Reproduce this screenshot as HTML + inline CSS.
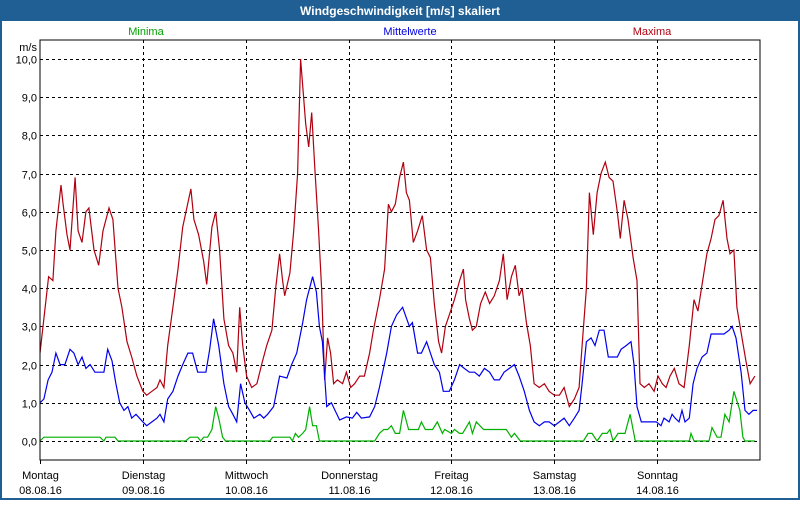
<!DOCTYPE html>
<html><head><meta charset="utf-8"><style>
html,body{margin:0;padding:0;background:#fff;}
body{width:800px;height:500px;overflow:hidden;font-family:"Liberation Sans",sans-serif;}
</style></head><body>
<svg id="chart" width="800" height="500" viewBox="0 0 800 500" xmlns="http://www.w3.org/2000/svg" font-family="Liberation Sans, sans-serif">
<rect x="0" y="0" width="800" height="500" fill="#1f5f94"/>
<rect x="2" y="21" width="796" height="477" fill="#ffffff"/>
<text x="400" y="15" text-anchor="middle" fill="#fff" font-size="12" font-weight="bold">Windgeschwindigkeit [m/s] skaliert</text>
<text x="146" y="35" text-anchor="middle" fill="#00a000" font-size="11">Minima</text>
<text x="410" y="35" text-anchor="middle" fill="#0000e0" font-size="11">Mittelwerte</text>
<text x="652" y="35" text-anchor="middle" fill="#b00010" font-size="11">Maxima</text>
<text x="37" y="51" text-anchor="end" fill="#000" font-size="11">m/s</text>
<g id="grid"></g>
<g id="series"></g>
<rect x="40" y="40" width="720" height="420" fill="none" stroke="#000" stroke-width="1"/>
<g id="labels"></g>
</svg>
<script>
const yTicks=[0,1,2,3,4,5,6,7,8,9,10];
const yTickLabels=["0,0","1,0","2,0","3,0","4,0","5,0","6,0","7,0","8,0","9,0","10,0"];
const dayNames=["Montag","Dienstag","Mittwoch","Donnerstag","Freitag","Samstag","Sonntag"];
const dayDates=["08.08.16","09.08.16","10.08.16","11.08.16","12.08.16","13.08.16","14.08.16"];
const maxT=[0,2.0,3.0,3.7,4.9,5.4,6.3,7.0,8.2,8.9,9.8,10.7,11.4,12.6,13.7,14.7,16.1,17.0,18.2,19.1,20.3,21.4,22.6,24.0,24.9,26.1,27.3,28.0,28.9,29.8,31.0,32.2,33.3,35.2,35.9,37.0,38.2,38.9,40.1,41.0,41.9,42.9,44.0,45.0,45.9,46.6,47.3,48.2,49.4,50.6,51.7,52.9,54.1,55.0,55.9,56.6,57.1,58.3,59.2,60.1,60.8,61.3,62.0,62.7,63.4,64.1,65.0,65.7,66.4,67.1,67.8,68.5,69.4,70.6,71.5,72.5,73.4,74.6,75.7,76.9,77.8,79.2,80.4,81.3,82.0,82.9,83.9,84.8,85.5,86.2,87.1,88.1,89.2,90.2,91.1,92.0,93.0,93.7,94.6,95.5,96.7,97.9,98.8,99.3,100.2,100.9,101.8,102.8,103.9,104.9,106.0,107.2,108.1,109.0,110.0,110.9,111.8,112.5,113.5,114.4,115.3,116.5,117.7,118.8,120.0,121.2,122.3,123.5,124.7,125.8,126.5,127.5,128.2,129.1,130.0,130.9,131.9,132.8,133.7,134.7,135.4,136.3,137.2,138.4,139.3,140.0,141.0,142.1,143.3,144.2,145.2,146.1,147.0,148.0,149.1,150.3,151.5,152.6,153.5,154.5,155.6,156.6,157.5,158.4,159.4,160.3,161.0,161.9,162.6,163.8,164.7,165.7,166.8];
const maxV=[2.3,4.3,4.2,5.5,6.7,6.2,5.4,5.0,6.9,5.5,5.2,6.0,6.1,5.0,4.6,5.5,6.1,5.8,4.0,3.5,2.6,2.2,1.7,1.3,1.2,1.3,1.4,1.6,1.4,2.5,3.5,4.5,5.6,6.6,5.8,5.4,4.7,4.1,5.6,6.0,5.0,3.2,2.5,2.3,1.8,3.5,2.5,1.7,1.4,1.5,2.0,2.5,2.9,4.0,4.9,4.2,3.8,4.4,5.5,7.0,10.0,9.3,8.3,7.7,8.6,7.2,5.5,4.0,1.6,2.7,2.3,1.5,1.6,1.5,1.8,1.4,1.5,1.7,1.7,2.3,2.9,3.7,4.5,6.2,6.0,6.2,6.9,7.3,6.5,6.3,5.2,5.5,5.9,5.0,4.8,3.6,2.6,2.3,3.0,3.3,3.7,4.2,4.5,3.7,3.2,2.9,3.0,3.6,3.9,3.6,3.8,4.2,4.9,3.7,4.3,4.6,3.8,4.0,3.1,2.5,1.5,1.4,1.5,1.3,1.2,1.2,1.4,0.9,1.1,1.4,2.5,4.0,6.5,5.4,6.5,7.0,7.3,6.9,6.8,6.0,5.3,6.3,5.8,4.8,4.2,1.5,1.4,1.5,1.3,1.7,1.5,1.4,1.7,1.9,1.5,1.4,2.5,3.7,3.4,4.1,4.9,5.3,5.8,5.9,6.3,5.3,4.9,5.0,3.5,2.7,2.1,1.5,1.7];
const meanT=[0,0.9,1.9,2.8,3.7,4.7,5.8,7.0,7.9,8.9,9.8,10.7,11.7,12.8,14.0,14.9,15.8,16.8,17.7,18.6,19.6,20.5,21.4,22.4,24.0,24.9,26.1,27.3,28.0,28.9,29.8,31.0,32.2,33.3,34.5,35.6,36.8,37.7,38.7,39.6,40.5,41.7,42.9,44.0,45.0,45.9,46.8,47.8,48.9,49.9,51.3,52.2,53.1,54.5,55.9,57.6,58.7,59.9,61.3,62.2,63.6,64.5,65.2,65.9,66.9,68.0,69.9,71.5,72.9,73.9,75.0,76.9,78.1,79.2,80.9,82.0,83.2,84.6,86.2,86.9,88.1,89.0,90.2,92.0,93.2,94.1,95.5,96.7,97.9,99.0,100.2,101.4,102.5,103.7,104.9,106.0,107.2,108.3,109.5,110.7,111.8,113.0,114.2,115.3,116.5,117.7,118.8,120.0,121.2,122.3,123.5,124.7,125.8,126.5,127.5,128.6,129.5,130.5,131.6,132.6,133.7,134.7,135.6,136.8,137.9,138.6,139.3,140.3,142.1,143.8,144.9,145.6,146.8,147.5,148.2,149.1,149.8,150.5,151.5,152.4,153.3,154.5,155.6,156.6,157.5,158.4,159.6,160.8,161.5,162.4,163.6,164.5,165.4,166.4,167.3];
const meanV=[1.0,1.1,1.6,1.8,2.3,2.0,2.0,2.4,2.3,2.0,2.2,1.9,2.0,1.8,1.8,1.8,2.4,2.1,1.5,1.0,0.8,0.9,0.6,0.7,0.5,0.4,0.5,0.6,0.7,0.5,1.1,1.3,1.7,2.0,2.3,2.3,1.8,1.8,1.8,2.4,3.2,2.5,1.5,0.9,0.7,0.5,1.5,1.0,0.8,0.6,0.7,0.6,0.7,0.9,1.7,1.65,2.0,2.3,3.1,3.7,4.3,3.9,3.0,2.6,0.9,1.0,0.55,0.63,0.6,0.75,0.6,0.63,0.9,1.4,2.3,3.0,3.3,3.5,3.0,3.1,2.3,2.3,2.6,2.0,1.8,1.3,1.3,1.6,2.0,1.9,1.8,1.8,1.7,1.9,1.8,1.6,1.6,1.8,1.9,2.0,1.7,1.3,0.8,0.5,0.4,0.5,0.5,0.4,0.5,0.6,0.4,0.6,0.8,1.5,2.6,2.7,2.5,2.9,2.9,2.2,2.2,2.2,2.4,2.5,2.6,2.0,0.9,0.5,0.5,0.5,0.4,0.6,0.5,0.7,0.6,0.5,0.8,0.5,0.6,1.5,1.9,2.2,2.3,2.8,2.8,2.8,2.8,2.9,3.0,2.7,1.8,0.8,0.7,0.8,0.8];
const minT=[0,0.9,14.0,14.9,15.4,17.5,18.2,34.0,35.0,36.8,37.5,38.2,39.1,40.1,41.0,41.7,42.6,43.3,53.6,54.3,58.3,58.9,59.6,60.3,61.3,62.0,62.9,63.6,64.5,65.2,78.1,79.2,80.2,81.1,82.0,82.9,83.9,84.8,86.0,88.3,89.0,89.9,91.6,92.7,93.9,94.4,96.0,96.7,97.9,98.6,100.2,100.9,101.8,103.5,108.8,110.0,110.7,112.1,126.8,127.9,128.8,130.0,131.2,132.3,133.0,133.7,134.9,136.5,137.7,138.9,151.5,151.9,152.6,156.1,156.8,158.0,158.9,159.8,160.8,161.9,163.3,164.0,164.5,166.8];
const minV=[0,0.1,0.1,0.0,0.1,0.1,0.0,0.0,0.1,0.1,0.0,0.1,0.1,0.3,0.9,0.6,0.1,0.0,0.0,0.1,0.1,0.0,0.2,0.1,0.2,0.3,0.9,0.4,0.4,0.0,0.0,0.2,0.3,0.3,0.4,0.2,0.2,0.8,0.3,0.3,0.5,0.3,0.3,0.5,0.2,0.3,0.2,0.3,0.2,0.2,0.5,0.2,0.5,0.3,0.3,0.1,0.2,0.0,0.0,0.2,0.2,0.0,0.2,0.2,0.3,0.0,0.2,0.2,0.7,0.0,0.0,0.2,0.0,0.0,0.35,0.1,0.1,0.7,0.5,1.3,0.8,0.1,0.0,0.0];

const NS="http://www.w3.org/2000/svg";
const X0=40,X1=760,Y0=441,PXV=38.2;
function xs(h){return X0+h*(X1-X0)/168;}
function ys(v){return Y0-v*PXV;}
const grid=document.getElementById('grid');
const labels=document.getElementById('labels');
const series=document.getElementById('series');
yTicks.forEach((t,i)=>{
  const y=Math.round(ys(t))+0.5;
  const l=document.createElementNS(NS,'line');
  
  
  l.setAttribute('x1',X0);l.setAttribute('x2',X1);l.setAttribute('y1',y);l.setAttribute('y2',y);
  l.setAttribute('stroke','#000');l.setAttribute('stroke-dasharray','3,3');
  grid.appendChild(l);
  const tx=document.createElementNS(NS,'text');
  
  
  tx.setAttribute('x',37);tx.setAttribute('y',y+4);tx.setAttribute('text-anchor','end');tx.setAttribute('font-size','11');
  tx.textContent=yTickLabels[i];
  labels.appendChild(tx);
});
dayNames.forEach((d,i)=>{
  const x=Math.round(xs(i*24))+0.5;
  if(i>0){
    const l=document.createElementNS(NS,'line');
    
    
    l.setAttribute('x1',x);l.setAttribute('x2',x);l.setAttribute('y1',40);l.setAttribute('y2',460);
    l.setAttribute('stroke','#000');l.setAttribute('stroke-dasharray','3,3');
    grid.appendChild(l);
  }
  const tk=document.createElementNS(NS,'line');
  
  
  tk.setAttribute('x1',x);tk.setAttribute('x2',x);tk.setAttribute('y1',460);tk.setAttribute('y2',464);
  tk.setAttribute('stroke','#000');
  labels.appendChild(tk);
  const a=document.createElementNS(NS,'text');
  
  
  a.setAttribute('x',x);a.setAttribute('y',479);a.setAttribute('text-anchor','middle');a.setAttribute('font-size','11');
  a.textContent=d;labels.appendChild(a);
  const b=document.createElementNS(NS,'text');
  
  
  b.setAttribute('x',x);b.setAttribute('y',494);b.setAttribute('text-anchor','middle');b.setAttribute('font-size','11');
  b.textContent=dayDates[i];labels.appendChild(b);
});
function drawLine(T,V,color,name){
  const p=document.createElementNS(NS,'polyline');
  
  
  p.setAttribute('points',T.map((t,i)=>xs(t).toFixed(1)+','+ys(V[i]).toFixed(1)).join(' '));
  p.setAttribute('fill','none');p.setAttribute('stroke',color);p.setAttribute('stroke-width','1.2');
  series.appendChild(p);
}
drawLine(minT,minV,'#00b000','minima-line');
drawLine(maxT,maxV,'#b00010','maxima-line');
drawLine(meanT,meanV,'#0000ee','mittelwerte-line');
</script>
</body></html>
